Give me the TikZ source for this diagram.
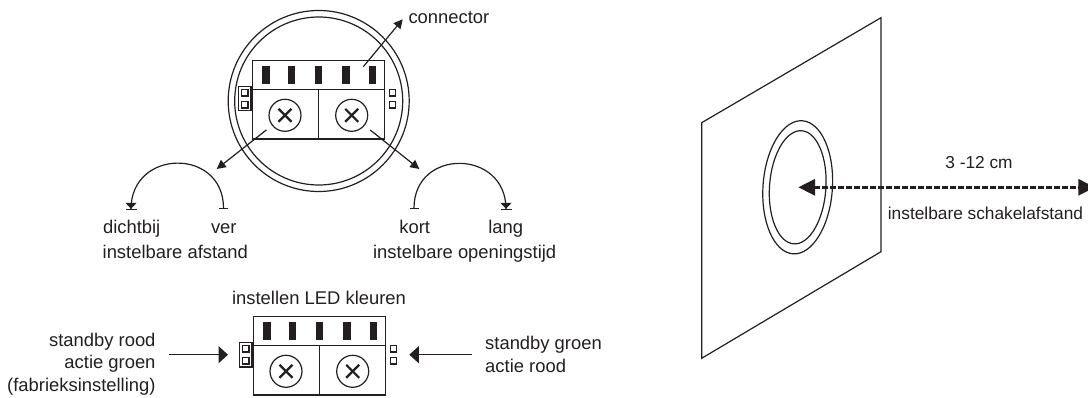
\documentclass[tikz,border=0pt]{standalone}
\usepackage{fontspec}
\setmainfont{Liberation Sans}
\usetikzlibrary{shapes, arrows.meta}

\definecolor{inkblack}{HTML}{231F20}

\tikzset{
    thinline/.style = {draw=inkblack, line width=1.2pt},
    txt/.style = {text=inkblack, font=\fontsize{18.4}{20}\selectfont, inner sep=0pt, anchor=base},
    smalltxt/.style = {txt, font=\fontsize{17.3}{20}\selectfont},
    knob/.style = {thinline, circle, minimum size=32pt, inner sep=0pt},
    pinbar/.style = {fill=inkblack, minimum width=7.6pt, minimum height=18pt, inner sep=0pt},
    ledsquare/.style = {thinline, minimum size=6.6pt, inner sep=0pt},
    pointer/.style = {thinline, -{Triangle[length=9pt, width=9pt]}},
    sidearrow/.style = {thinline, -{Triangle[length=9.5pt, width=17pt]}},
    turn/.style = {thinline, {Bar[width=9pt]}-{Triangle[length=6pt, width=11pt]Bar[width=11pt]}},
    panel/.pic = {
        \draw[thinline] (252.3,60.7) rectangle (384.3,139);
        \draw[thinline] (252.3,89.7) -- (384.3,89.7);
        \draw[thinline] (318.4,89.7) -- (318.4,139);
        \foreach \x in {265.8, 291.3, 318.5, 346.2, 372.5}
            \node[pinbar] at (\x,75.3) {};
        \node[knob] (-knobleft) at (285,115.3) {};
        \node[knob] (-knobright) at (351.7,115.3) {};
        \foreach \k in {-knobleft, -knobright} {
            \draw[thinline, line width=2.2pt] (\k.center) ++(-6.5,-6.5) -- ++(13,13);
            \draw[thinline, line width=2.2pt] (\k.center) ++(-6.5,6.5) -- ++(13,-13);
        }
        \draw[thinline] (238.6,86.9) rectangle (251,110.9);
        \node[ledsquare] at (244.7,92.7) {};
        \node[ledsquare] at (244.7,104.7) {};
        \node[ledsquare] at (392.5,92.7) {};
        \node[ledsquare] at (392.5,104.7) {};
    }
}

\begin{document}
\begin{tikzpicture}[x=1pt, y=-1pt]
    \useasboundingbox (0,0) rectangle (1088,398);

    % sensor with ring
    \node[thinline, circle, minimum size=181pt, inner sep=0pt] (ringouter) at (318.7,101) {};
    \node[thinline, circle, minimum size=168pt, inner sep=0pt] (ringinner) at (318.7,101) {};
    \pic (top) at (0,0) {panel};

    \coordinate (connfrom) at (363.3,66.7);
    \coordinate (connto) at (402.7,19.3);
    \node[txt, anchor=base west] (connector) at (408.3,23.5) {connector};
    \draw[pointer] (connfrom) -- (connto);

    \coordinate (afstandto) at (216.7,169);
    \coordinate (tijdto) at (419.3,169);
    \draw[pointer, shorten <=7pt] (top-knobleft) -- (afstandto);
    \draw[pointer, shorten <=7pt] (top-knobright) -- (tijdto);

    % left dial
    \node[txt] (dichtbij) at (131.7,233.3) {dichtbij};
    \node[txt] (ver) at (223.8,233.3) {ver};
    \node[txt] (afstand) at (175.3,258.6) {instelbare afstand};
    \coordinate (dichtend) at (131,210);
    \coordinate (verend) at (223.5,209);
    \draw[turn] (verend) to[out=90, in=90, looseness=1.7] (dichtend);

    % right dial
    \node[txt] (kort) at (414.7,233.3) {kort};
    \node[txt] (lang) at (505.8,233.3) {lang};
    \node[txt] (openingstijd) at (464.7,258.6) {instelbare openingstijd};
    \coordinate (kortend) at (414,209);
    \coordinate (langend) at (506,210);
    \draw[turn] (kortend) to[out=90, in=90, looseness=1.7] (langend);

    % led colours
    \node[txt] (ledtitle) at (319,305) {instellen LED kleuren};
    \pic (low) at (1,256) {panel};
    \node[txt, align=right, anchor=east] (leftlabel) at (155.7,364) {standby rood\\[2.4pt]actie groen\\[2.4pt](fabrieksinstelling)};
    \node[txt, align=left, anchor=west] (rightlabel) at (485,354.5) {standby groen\\[2.4pt]actie rood};
    \coordinate (leftfrom) at (169.3,354.7);
    \coordinate (leftto) at (228,354.7);
    \coordinate (rightfrom) at (472,354.7);
    \coordinate (rightto) at (409.3,354.7);
    \draw[sidearrow] (leftfrom) -- (leftto);
    \draw[sidearrow] (rightfrom) -- (rightto);

    % plate on the right
    \draw[thinline] (701.7,122.7) -- (881,17.7) -- (881,251.7) -- (701.7,358.3) -- cycle;
    \node[thinline, ellipse, minimum width=69.4pt, minimum height=133.4pt, inner sep=0pt, rotate=-4] (holeouter) at (797.7,187.3) {};
    \node[thinline, ellipse, minimum width=56.4pt, minimum height=113.4pt, inner sep=0pt, rotate=-4] (holeinner) at (797.7,187.3) {};

    \coordinate (rangeleft) at (798.3,187.3);
    \coordinate (rangeright) at (1095,187.3);
    \draw[draw=inkblack, line width=3pt, dash pattern=on 5.3pt off 2.7pt, {Triangle[length=16.7pt, width=16pt]}-{Triangle[length=16.7pt, width=16pt]}] (rangeleft) -- (rangeright);
    \node[smalltxt] (range) at (979,169) {3 -12 cm};
    \node[smalltxt] (schakel) at (985.5,219.3) {instelbare schakelafstand};
\end{tikzpicture}
\end{document}
